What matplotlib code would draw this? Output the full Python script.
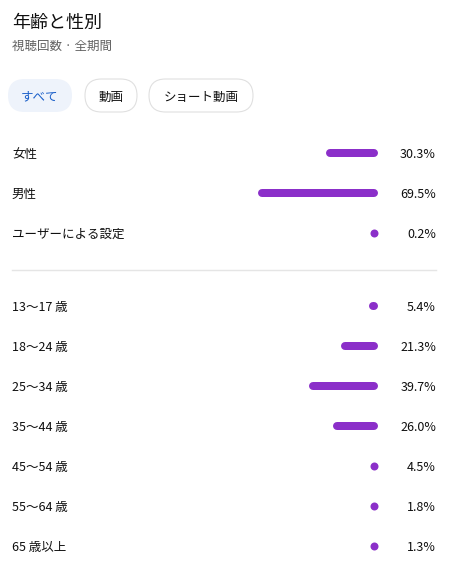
import matplotlib.pyplot as plt
from matplotlib.patches import FancyBboxPatch

plt.rcParams['font.family'] = ['Noto Sans CJK JP', 'DejaVu Sans']

title = '年齢と性別'
subtitle = '視聴回数 · 全期間'
tabs = ['すべて', '動画', 'ショート動画']

gender_labels = ['女性', '男性', 'ユーザーによる設定']
gender_values = [30.3, 69.5, 0.2]

age_labels = ['13〜17 歳', '18〜24 歳', '25〜34 歳', '35〜44 歳', '45〜54 歳', '55〜64 歳', '65 歳以上']
age_values = [5.4, 21.3, 39.7, 26.0, 4.5, 1.8, 1.3]

W, H = 472, 575
purple = '#8b2fc9'
textc = '#0f0f0f'

fig = plt.figure(figsize=(W / 100, H / 100), dpi=100)
ax = fig.add_axes([0, 0, 1, 1])
ax.set_xlim(0, W)
ax.set_ylim(H, 0)
ax.axis('off')

def px(p):
    return p * 72 / 100

dy = 1.5  # CJK font sits a bit high with va=center

ax.text(12, 21 + dy, title, fontsize=px(18), color=textc, va='center', ha='left')
ax.text(12, 45 + dy, subtitle, fontsize=px(12.5), color='#606060', va='center', ha='left')

# tab pills
tab_x = [(8, 72), (85, 137), (149, 253)]
for i, (t, (x0, x1)) in enumerate(zip(tabs, tab_x)):
    h = 33
    y0 = 79
    if i == 0:
        box = FancyBboxPatch((x0, y0), x1 - x0, h,
                             boxstyle='round,pad=0,rounding_size=16.5',
                             fc='#eef3fb', ec='none')
    else:
        box = FancyBboxPatch((x0, y0), x1 - x0, h,
                             boxstyle='round,pad=0,rounding_size=16.5',
                             fc='white', ec='#e0e0e0', lw=0.8)
    ax.add_patch(box)
    ax.text((x0 + x1) / 2, y0 + h / 2 + dy, t, fontsize=px(12.5),
            color='#1a5fc9' if i == 0 else textc, va='center', ha='center')

scale = 1.73
bar_end = 378
lw_px = 8

def draw_rows(labels, values, y_start):
    for k, (lab, v) in enumerate(zip(labels, values)):
        y = y_start + k * 40
        ax.text(12, y + dy, lab, fontsize=px(12.5), color=textc, va='center', ha='left')
        ax.text(436, y + dy, f'{v:.1f}%', fontsize=px(12.5), color=textc, va='center', ha='right')
        length = v * scale
        x1 = bar_end - lw_px / 2
        if length <= lw_px:
            ax.plot([x1], [y], 'o', color=purple, ms=px(lw_px), mec='none')
        else:
            x0 = bar_end - length + lw_px / 2
            ax.plot([x0, x1], [y, y], color=purple, lw=px(lw_px),
                    solid_capstyle='round')

draw_rows(gender_labels, gender_values, 153)
ax.plot([12, 436], [270, 270], color='#e5e5e5', lw=1)
draw_rows(age_labels, age_values, 306)

fig.savefig('out.png', dpi=100, facecolor='white')
